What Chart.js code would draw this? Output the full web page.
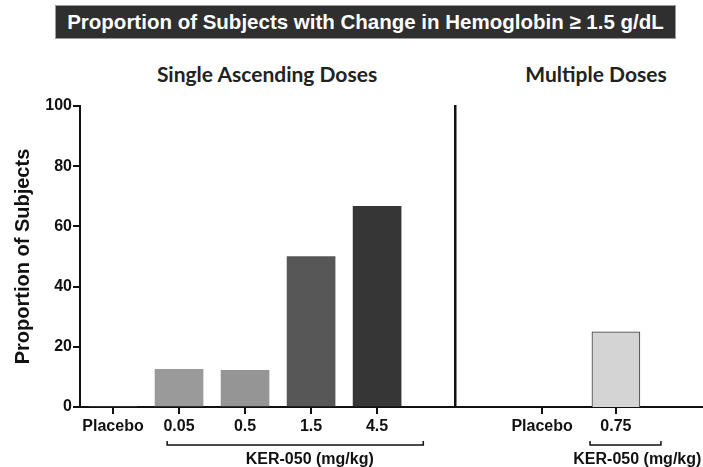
<!DOCTYPE html>
<html>
<head>
<meta charset="utf-8">
<script src="https://cdn.jsdelivr.net/npm/chart.js@4.4.0/dist/chart.umd.min.js"></script>
<style>
  body { margin: 0; background: #fff; }
  #wrap { position: relative; width: 703px; height: 467px; overflow: hidden; font-family: 'Liberation Sans', Arial, sans-serif; }
  .banner { position: absolute; left: 55px; top: 5px; width: 619px; height: 32px; background: #2f2f2f; border: 1px solid #9a9a9a;
            color: #fff; font-weight: bold; font-size: 20.5px; line-height: 32px; text-align: center; white-space: nowrap; }
  .panel { position: absolute; top: 61px; font-family: Lato, sans-serif; font-weight: bold; font-size: 21px; color: #222;
           transform: translateX(-50%); white-space: nowrap; }
  canvas { position: absolute; top: 0; }
</style>
</head>
<body>
<div id="wrap">
  <div class="banner">Proportion of Subjects with Change in Hemoglobin ≥ 1.5 g/dL</div>
  <div class="panel" style="left:267px">Single Ascending Doses</div>
  <div class="panel" style="left:596px">Multiple Doses</div>
  <canvas id="sad" width="456" height="467" style="left:0"></canvas>
  <canvas id="md" width="253" height="467" style="left:450px"></canvas>
</div>
<script>
// single ascending doses
const sadDoses = ['Placebo', '0.05', '0.5', '1.5', '4.5'];
const sadValues = [0, 12.5, 12.2, 50, 66.7];
const sadColors = ['#999999', '#9a9a9a', '#959595', '#575757', '#363636'];

// multiple doses
const mdDoses = ['Placebo', '0.75'];
const mdValues = [0, 25];
const mdColors = ['#d4d4d4', '#d4d4d4'];

const yTicks = [0, 20, 40, 60, 80, 100];
const groupLabel = 'KER-050 (mg/kg)';

Chart.defaults.font.family = "'Liberation Sans', Arial, sans-serif";
Chart.defaults.color = '#111';

// bracket under the dosed groups + its caption
const bracketPlugin = {
  id: 'bracket',
  afterDraw(chart, args, opts) {
    const { ctx, chartArea } = chart;
    const x = chart.scales.x;
    const x1 = x.getPixelForValue(opts.from);
    const x2 = x.getPixelForValue(opts.to);
    const y = chartArea.bottom + 38;
    ctx.save();
    ctx.strokeStyle = '#111';
    ctx.lineWidth = 1.5;
    ctx.beginPath();
    ctx.moveTo(x1, y - 4);
    ctx.lineTo(x1, y);
    ctx.lineTo(x2, y);
    ctx.lineTo(x2, y - 4);
    ctx.stroke();
    ctx.font = "bold 16px 'Liberation Sans', Arial";
    ctx.fillStyle = '#111';
    ctx.textAlign = 'center';
    ctx.fillText(opts.text, x.getPixelForValue(opts.labelAt), chartArea.bottom + 57);
    ctx.restore();
  }
};

function xScale(labels, min, max) {
  return {
    type: 'linear',
    min: min,
    max: max,
    offset: false,
    afterBuildTicks: s => { s.ticks = labels.map((l, i) => ({ value: i })); },
    afterFit: s => { s.height = 60; },
    grid: { drawOnChartArea: false, offset: false, tickLength: 7, color: '#111', lineWidth: 2 },
    border: { color: '#111', width: 2 },
    ticks: {
      autoSkip: false, maxRotation: 0, padding: 3,
      font: { size: 16, weight: 'bold' },
      callback: v => labels[v]
    }
  };
}

new Chart(document.getElementById('sad'), {
  type: 'bar',
  data: {
    datasets: [{
      data: sadValues.map((v, i) => ({ x: i, y: v })),
      backgroundColor: sadColors,
      borderWidth: 0,
      barThickness: 48
    }]
  },
  options: {
    responsive: false,
    animation: false,
    layout: { padding: { top: 106, right: 1, left: 0, bottom: 0 } },
    plugins: {
      legend: { display: false },
      tooltip: { enabled: false },
      bracket: { from: 0.82, to: 4.7, labelAt: 2.98, text: groupLabel }
    },
    scales: {
      x: xScale(sadDoses, -0.5, 5.18),
      y: {
        min: 0, max: 100,
        afterBuildTicks: s => { s.ticks = yTicks.map(v => ({ value: v })); },
        afterFit: s => { s.width = 80; },
        grid: { drawOnChartArea: false, tickLength: 7, color: '#111', lineWidth: 2 },
        border: { color: '#111', width: 2 },
        ticks: { padding: 1, font: { size: 16, weight: 'bold' } },
        title: {
          display: true, text: 'Proportion of Subjects',
          font: { size: 20, weight: 'bold' }, padding: { top: 11, bottom: 0 }
        }
      }
    }
  },
  plugins: [bracketPlugin]
});

new Chart(document.getElementById('md'), {
  type: 'bar',
  data: {
    datasets: [{
      data: mdValues.map((v, i) => ({ x: i, y: v })),
      backgroundColor: mdColors,
      borderColor: '#3a3a3a',
      borderWidth: 1,
      barThickness: 48
    }]
  },
  options: {
    responsive: false,
    animation: false,
    layout: { padding: { top: 106, right: 0, left: 0, bottom: 0 } },
    plugins: {
      legend: { display: false },
      tooltip: { enabled: false },
      bracket: { from: 0.65, to: 1.61, labelAt: 1.29, text: groupLabel }
    },
    scales: {
      x: xScale(mdDoses, -1.18, 2.18),
      y: {
        min: 0, max: 100,
        afterFit: s => { s.width = 5; },
        grid: { display: false },
        border: { color: '#111', width: 2.5 },
        ticks: { display: false }
      }
    }
  },
  plugins: [bracketPlugin]
});
</script>
</body>
</html>
